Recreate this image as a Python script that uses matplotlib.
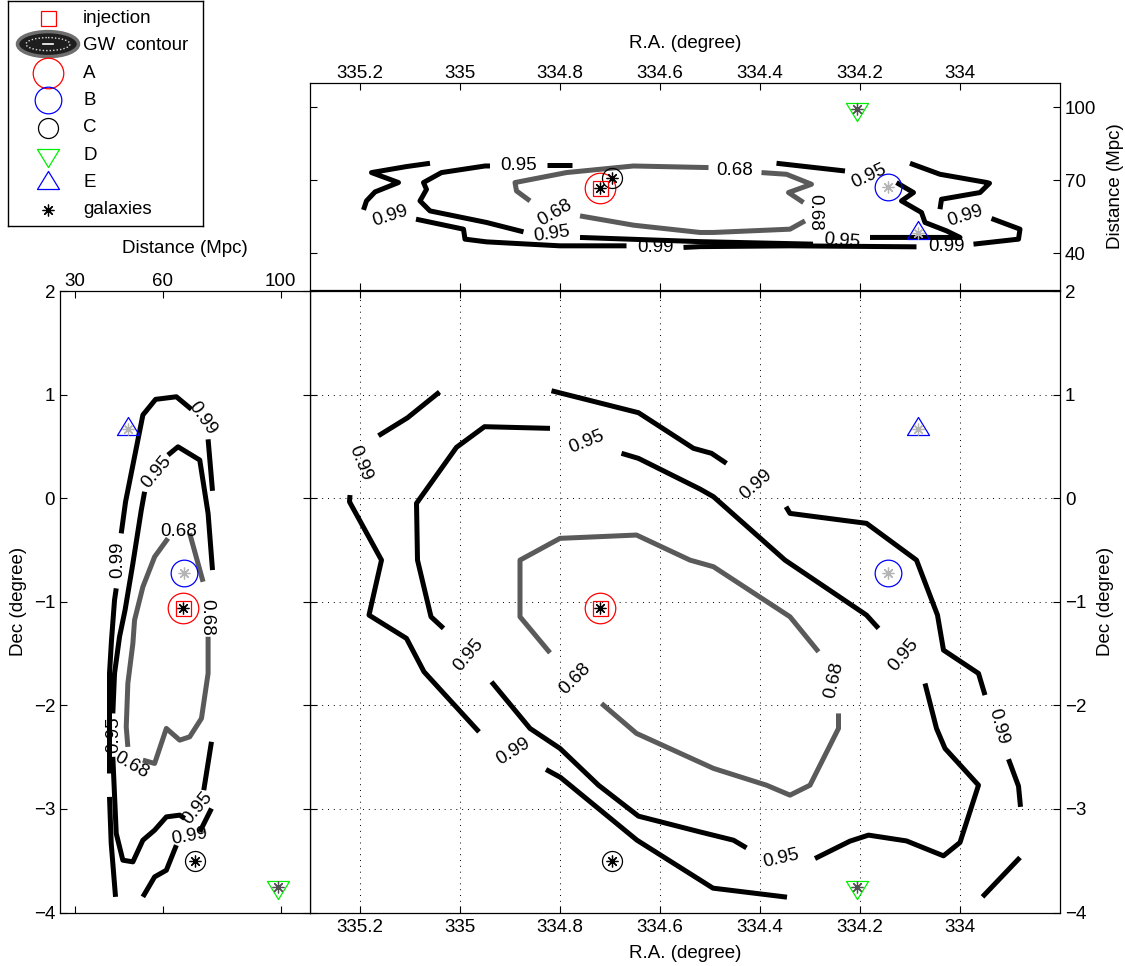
import matplotlib
matplotlib.use("Agg")
import matplotlib.pyplot as plt
from matplotlib.patches import Ellipse
from matplotlib.path import Path

plt.rcParams["font.family"] = ["Liberation Sans", "DejaVu Sans"]
plt.rcParams["font.size"] = 13.5
plt.rcParams["axes.linewidth"] = 0.9
plt.rcParams["axes.unicode_minus"] = True

# ---------------- axis ticks ----------------
ra_ticks = [335.2, 335.0, 334.8, 334.6, 334.4, 334.2, 334.0]
ra_ticklabels = ["335.2", "335", "334.8", "334.6", "334.4", "334.2", "334"]
dec_ticks = [-4, -3, -2, -1, 0, 1, 2]
dec_ticklabels = ["\u22124", "\u22123", "\u22122", "\u22121", "0", "1", "2"]
dist_ticks = [30, 60, 100]
dist_ticklabels = ["30", "60", "100"]
dist_ticks_top = [40, 70, 100]
dist_ticklabels_top = ["40", "70", "100"]

# ---------------- sources ----------------
src_names = ["A", "B", "C", "D", "E"]
src_ra = [334.720, 334.145, 334.697, 334.207, 334.085]
src_dec = [-1.060, -0.720, -3.505, -3.750, 0.665]
src_dist = [66.8, 67.3, 70.9, 99.1, 48.2]
src_colors = ["#ff0000", "#0000ff", "#000000", "#00ee00", "#0000ff"]
src_kinds = ["o", "o", "o", "down", "up"]
src_sizes = [22.0, 19.2, 14.4, 17.3, 17.3]
gal_colors = ["#000000", "#b4b4b4", "#000000", "#505050", "#b4b4b4"]
inj_ra, inj_dec, inj_dist = 334.720, -1.060, 66.8

# ---------------- main panel contours (R.A., Dec) ----------------
main99_ra = [
    [335.163, 335.105, 335.041],
    [335.220, 335.221, 335.157, 335.182, 335.107, 335.072, 335.033, 334.962],
    [334.828, 334.799, 334.646, 334.494, 334.346],
    [333.955, 333.880],
    [333.879, 333.883, 333.903],
    [333.950, 333.963, 334.033, 334.045, 334.087, 334.187, 334.340, 334.348],
    [334.467, 334.497, 334.533, 334.643, 334.817],
]
main99_dec = [
    [0.603, 0.776, 1.025],
    [0.030, -0.035, -0.598, -1.129, -1.354, -1.676, -1.882, -2.256],
    [-2.619, -2.696, -3.302, -3.765, -3.852],
    [-3.849, -3.469],
    [-2.980, -2.780, -2.520],
    [-1.901, -1.692, -1.467, -1.129, -0.598, -0.243, -0.147, -0.083],
    [0.336, 0.433, 0.481, 0.825, 1.037],
]
main95_ra = [
    [334.820, 334.951, 335.007, 335.087, 335.085, 335.058, 335.033],
    [334.937, 334.860, 334.800, 334.723, 334.643, 334.520, 334.453, 334.427],
    [334.290, 334.220, 334.183, 334.107, 334.033, 334.000, 333.963, 334.030, 334.047, 334.070],
    [334.163, 334.187, 334.350, 334.493, 334.520, 334.643, 334.677],
]
main95_dec = [
    [0.674, 0.690, 0.491, -0.050, -0.598, -1.145, -1.257],
    [-1.773, -2.223, -2.416, -2.771, -3.070, -3.222, -3.302, -3.376],
    [-3.479, -3.311, -3.253, -3.309, -3.453, -3.324, -2.771, -2.416, -2.223, -1.789],
    [-1.257, -1.129, -0.598, 0.014, 0.088, 0.384, 0.433],
]
main68_ra = [
    [334.820, 334.880, 334.880, 334.800, 334.647, 334.540, 334.493, 334.340, 334.283],
    [334.243, 334.243, 334.300, 334.340, 334.387, 334.493, 334.647, 334.717],
]
main68_dec = [
    [-1.493, -1.145, -0.598, -0.388, -0.356, -0.598, -0.662, -1.145, -1.483],
    [-2.078, -2.223, -2.771, -2.867, -2.771, -2.609, -2.271, -1.982],
]
main_lab_ra = [335.200, 334.893, 333.923, 334.407, 334.983, 334.357, 334.113, 334.747, 334.253, 334.770]
main_lab_dec = [0.340, -2.449, -2.208, 0.127, -1.515, -3.479, -1.515, 0.545, -1.757, -1.740]
main_lab_txt = ["0.99", "0.99", "0.99", "0.99", "0.95", "0.95", "0.95", "0.95", "0.68", "0.68"]
main_lab_rot = [-68, 32, -75, 41, 50, 13, 50, 22, 77, 45]

# ---------------- top panel contours (R.A., distance) ----------------
top99_ra = [
    [335.060, 335.107, 335.177, 335.123, 335.170, 335.187, 335.193],
    [335.088, 334.993, 334.990, 334.947, 334.800, 334.667],
    [334.553, 334.520, 334.340, 334.087],
    [333.973, 333.883, 333.880, 333.937],
    [334.100, 334.040, 333.947, 333.941, 333.960, 334.037, 334.040],
]
top99_dist = [
    [76.96, 75.61, 73.15, 69.06, 65.21, 61.53, 57.84],
    [54.04, 49.94, 45.85, 44.74, 43.11, 43.11],
    [42.45, 42.78, 43.11, 42.70],
    [43.80, 45.85, 49.94, 54.32],
    [76.96, 72.45, 69.10, 68.77, 64.96, 62.22, 58.13],
]
top95_ra = [
    [334.873, 334.947, 335.060, 335.080, 335.067, 335.073, 335.037, 334.950, 334.940],
    [334.827, 334.777],
    [334.367, 334.230],
    [334.127, 334.093, 334.117, 334.077, 334.070, 334.027, 334.000, 334.180],
    [334.294, 334.340, 334.520, 334.760],
]
top95_dist = [
    [48.84, 52.69, 57.43, 61.53, 66.25, 69.06, 73.15, 75.85, 75.85],
    [76.26, 76.26],
    [76.96, 73.80],
    [69.06, 64.96, 61.53, 56.78, 52.69, 49.25, 46.55, 46.55],
    [43.80, 44.01, 44.83, 46.55],
]
top68_ra = [
    [334.860, 334.887, 334.890, 334.787, 334.653, 334.503],
    [334.397, 334.347, 334.297, 334.343, 334.313],
    [334.310, 334.340, 334.493, 334.520, 334.653, 334.760],
]
top68_dist = [
    [61.53, 65.62, 69.06, 73.15, 75.85, 75.20],
    [73.15, 72.45, 68.36, 64.96, 60.87],
    [53.34, 49.94, 48.59, 48.59, 51.58, 55.39],
]
top_lab_ra = [335.140, 334.610, 334.027, 333.990, 334.883, 334.183, 334.237, 334.817, 334.450, 334.290, 334.810]
top_lab_dist = [55.39, 42.45, 42.70, 55.39, 75.85, 71.76, 45.15, 47.90, 73.80, 56.78, 56.78]
top_lab_txt = ["0.99", "0.99", "0.99", "0.99", "0.95", "0.95", "0.95", "0.95", "0.68", "0.68", "0.68"]
top_lab_rot = [18, 0, 0, 18, 0, 25, -5, 8, 0, -90, 30]

# ---------------- left panel contours (distance, Dec) ----------------
left99_dist = [
    [45.82, 47.29, 53.18, 57.51, 64.57, 69.69],
    [75.35, 76.85],
    [44.12, 43.54, 42.51, 41.83, 41.83],
    [41.83, 42.41, 43.88],
    [76.50, 72.52],
    [64.57, 61.16, 57.17, 53.18],
]
left99_dec = [
    [-0.340, -0.035, 0.803, 0.954, 0.979, 0.858],
    [0.568, 0.071],
    [-0.871, -0.984, -1.371, -1.692, -2.658],
    [-2.884, -3.334, -3.849],
    [-2.996, -3.222],
    [-3.350, -3.592, -3.656, -3.849],
]
left95_dist = [
    [61.71, 65.12, 72.52, 75.35, 76.85],
    [53.76, 52.64, 49.78, 47.12, 45.24, 43.54, 42.96],
    [42.96, 44.12, 46.37, 49.78, 53.18, 57.17, 61.16, 65.70, 67.40],
    [73.88, 76.50],
]
left95_dec = [
    [0.416, 0.496, 0.368, -0.147, -0.694],
    [0.062, -0.115, -0.630, -1.081, -1.338, -1.692, -2.078],
    [-2.497, -3.237, -3.495, -3.511, -3.302, -3.205, -3.077, -3.060, -3.092],
    [-2.819, -2.352],
]
left68_dist = [
    [61.71, 57.17, 53.18, 50.35, 49.78, 48.07, 47.52, 48.07],
    [53.18, 57.17, 61.16, 65.70, 69.10, 73.10, 75.35, 75.35],
    [73.64, 69.10],
]
left68_dec = [
    [-0.388, -0.566, -0.856, -1.177, -1.402, -1.788, -2.208, -2.401],
    [-2.529, -2.561, -2.223, -2.336, -2.304, -2.126, -1.692, -1.338],
    [-0.807, -0.340],
]
left_lab_dist = [73.44, 44.66, 69.10, 57.75, 43.20, 71.94, 49.23, 74.80, 65.40]
left_lab_dec = [0.771, -0.598, -3.270, 0.255, -2.288, -2.996, -2.577, -1.148, -0.320]
left_lab_txt = ["0.99", "0.99", "0.99", "0.95", "0.95", "0.95", "0.68", "0.68", "0.68"]
left_lab_rot = [-55, 90, 10, 50, 90, 50, -30, -90, 0]

legend_labels = ["injection", "GW  contour", "A", "B", "C", "D", "E", "galaxies"]

# ---------------- styles ----------------
BLACK = "#000000"
GRAY = "#5a5a5a"
LW = 3.6
FS = 13.5
_up = [(0, 1), (-0.917, -0.5), (0.917, -0.5), (0, 1)]
_dn = [(0, -1), (-0.917, 0.5), (0.917, 0.5), (0, -1)]
TRI_UP = Path(_up, closed=True)
TRI_DOWN = Path(_dn, closed=True)
STAR = (8, 2, 0)


def marker_of(kind):
    if kind == "up":
        return TRI_UP
    if kind == "down":
        return TRI_DOWN
    return kind


W, H = 1125, 966
fig = plt.figure(figsize=(W / 100, H / 100), dpi=100)


def rect(l, t, r, b):
    return [l / W, 1 - b / H, (r - l) / W, (b - t) / H]


ax_main = fig.add_axes(rect(310, 291, 1060, 912.5))
ax_top = fig.add_axes(rect(310, 82.7, 1060, 290))
ax_left = fig.add_axes(rect(60, 291, 310, 912.5))
ax_leg = fig.add_axes(rect(8, 0.5, 203, 226))


def draw_pieces(ax, xs_list, ys_list, color):
    for xs, ys in zip(xs_list, ys_list):
        ax.plot(xs, ys, color=color, lw=LW, solid_joinstyle="round",
                solid_capstyle="butt", zorder=3)


def draw_labels(ax, xs, ys, txts, rots):
    for x, y, t, r in zip(xs, ys, txts, rots):
        ax.text(x, y, t, rotation=r, ha="center", va="center",
                rotation_mode="anchor", fontsize=FS, zorder=4)


def draw_sources(ax, xs, ys, inj_x, inj_y):
    for x, y, k, c, s, g in zip(xs, ys, src_kinds, src_colors, src_sizes, gal_colors):
        ax.plot([x], [y], linestyle="none", marker=marker_of(k), ms=s,
                mfc="none", mec=c, mew=0.9, zorder=5)
        ax.plot([x], [y], linestyle="none", marker=STAR, ms=8.5,
                mfc="none", mec=g, mew=0.9, zorder=6)
    ax.plot([inj_x], [inj_y], linestyle="none", marker="s", ms=10.8,
            mfc="none", mec="#ff0000", mew=0.9, zorder=6)


# ---- main panel ----
draw_pieces(ax_main, main99_ra, main99_dec, BLACK)
draw_pieces(ax_main, main95_ra, main95_dec, BLACK)
draw_pieces(ax_main, main68_ra, main68_dec, GRAY)
draw_labels(ax_main, main_lab_ra, main_lab_dec, main_lab_txt, main_lab_rot)
draw_sources(ax_main, src_ra, src_dec, inj_ra, inj_dec)
ax_main.set_xlim(335.3, 333.8)
ax_main.set_ylim(-4, 2)
ax_main.set_xticks(ra_ticks)
ax_main.set_xticklabels(ra_ticklabels)
ax_main.set_yticks(dec_ticks)
ax_main.set_yticklabels(dec_ticklabels)
ax_main.tick_params(direction="in", length=5, width=0.8, top=True, bottom=True,
                    left=True, right=True, labelleft=False, labelright=True)
ax_main.tick_params(axis="x", pad=4.5)
ax_main.grid(True, linestyle=(0, (1, 5)), color="k", linewidth=0.7)
ax_main.set_axisbelow(True)
ax_main.set_xlabel("R.A. (degree)", labelpad=6.5)
ax_main.yaxis.set_label_position("right")
ax_main.set_ylabel("Dec (degree)", labelpad=7.5)

# ---- top panel ----
draw_pieces(ax_top, top99_ra, top99_dist, BLACK)
draw_pieces(ax_top, top95_ra, top95_dist, BLACK)
draw_pieces(ax_top, top68_ra, top68_dist, GRAY)
draw_labels(ax_top, top_lab_ra, top_lab_dist, top_lab_txt, top_lab_rot)
draw_sources(ax_top, src_ra, src_dist, inj_ra, inj_dist)
ax_top.set_xlim(335.3, 333.8)
ax_top.set_ylim(25, 110)
ax_top.set_xticks(ra_ticks)
ax_top.set_xticklabels(ra_ticklabels)
ax_top.set_yticks(dist_ticks_top)
ax_top.set_yticklabels(dist_ticklabels_top)
ax_top.tick_params(direction="in", length=5, width=0.8, top=True, bottom=True,
                   left=True, right=True, labeltop=True, labelbottom=False,
                   labelleft=False, labelright=True)
ax_top.tick_params(axis="x", pad=0.4)
ax_top.xaxis.set_label_position("top")
ax_top.set_xlabel("R.A. (degree)", labelpad=12.5)
ax_top.yaxis.set_label_position("right")
ax_top.set_ylabel("Distance (Mpc)", labelpad=7.5)

# ---- left panel ----
draw_pieces(ax_left, left99_dist, left99_dec, BLACK)
draw_pieces(ax_left, left95_dist, left95_dec, BLACK)
draw_pieces(ax_left, left68_dist, left68_dec, GRAY)
draw_labels(ax_left, left_lab_dist, left_lab_dec, left_lab_txt, left_lab_rot)
draw_sources(ax_left, src_dist, src_dec, inj_dist, inj_dec)
ax_left.set_xlim(25, 110)
ax_left.set_ylim(-4, 2)
ax_left.set_xticks(dist_ticks)
ax_left.set_xticklabels(dist_ticklabels)
ax_left.set_yticks(dec_ticks)
ax_left.set_yticklabels(dec_ticklabels)
ax_left.tick_params(direction="in", length=5, width=0.8, top=True, bottom=True,
                    left=True, right=True, labeltop=True, labelbottom=False,
                    labelleft=True, labelright=False)
ax_left.tick_params(axis="x", pad=0.8)
ax_left.xaxis.set_label_position("top")
ax_left.set_xlabel("Distance (Mpc)", labelpad=14)
ax_left.set_ylabel("Dec (degree)", labelpad=4.5)

# ---- legend (drawn as its own small axes) ----
ax_leg.set_xlim(0, 195)
ax_leg.set_ylim(225.5, 0)
ax_leg.set_xticks([])
ax_leg.set_yticks([])
for sp in ax_leg.spines.values():
    sp.set_linewidth(1.0)
mx, tx, y0, dy = 40, 75, 17.7, 27.4
rows = [y0 + dy * i for i in range(len(legend_labels))]
# injection
ax_leg.plot([mx], [rows[0]], linestyle="none", marker="s", ms=10.8,
            mfc="none", mec="#ff0000", mew=0.9)
# GW contour symbol
ax_leg.add_patch(Ellipse((mx, rows[1] - 1.5), 61, 25, facecolor="#1e1e1e",
                         edgecolor="#6e6e6e", lw=2.5))
ax_leg.add_patch(Ellipse((mx, rows[1] - 1.5), 44, 13, facecolor="none",
                         edgecolor="#dddddd", lw=1.0, linestyle=(0, (1, 1.5))))
ax_leg.plot([mx - 5, mx + 5], [rows[1] - 1.5, rows[1] - 1.5], color="white", lw=1.2)
# sources
for i, (k, c, s) in enumerate(zip(src_kinds, src_colors, src_sizes)):
    ax_leg.plot([mx], [rows[2 + i]], linestyle="none", marker=marker_of(k), ms=s,
                mfc="none", mec=c, mew=0.9)
# galaxies
ax_leg.plot([mx], [rows[7]], linestyle="none", marker=STAR, ms=8.5,
            mfc="none", mec="k", mew=0.9)
for lab, y in zip(legend_labels, rows):
    ax_leg.text(tx, y, lab, ha="left", va="center", fontsize=FS)

fig.savefig("out.png", dpi=100)
